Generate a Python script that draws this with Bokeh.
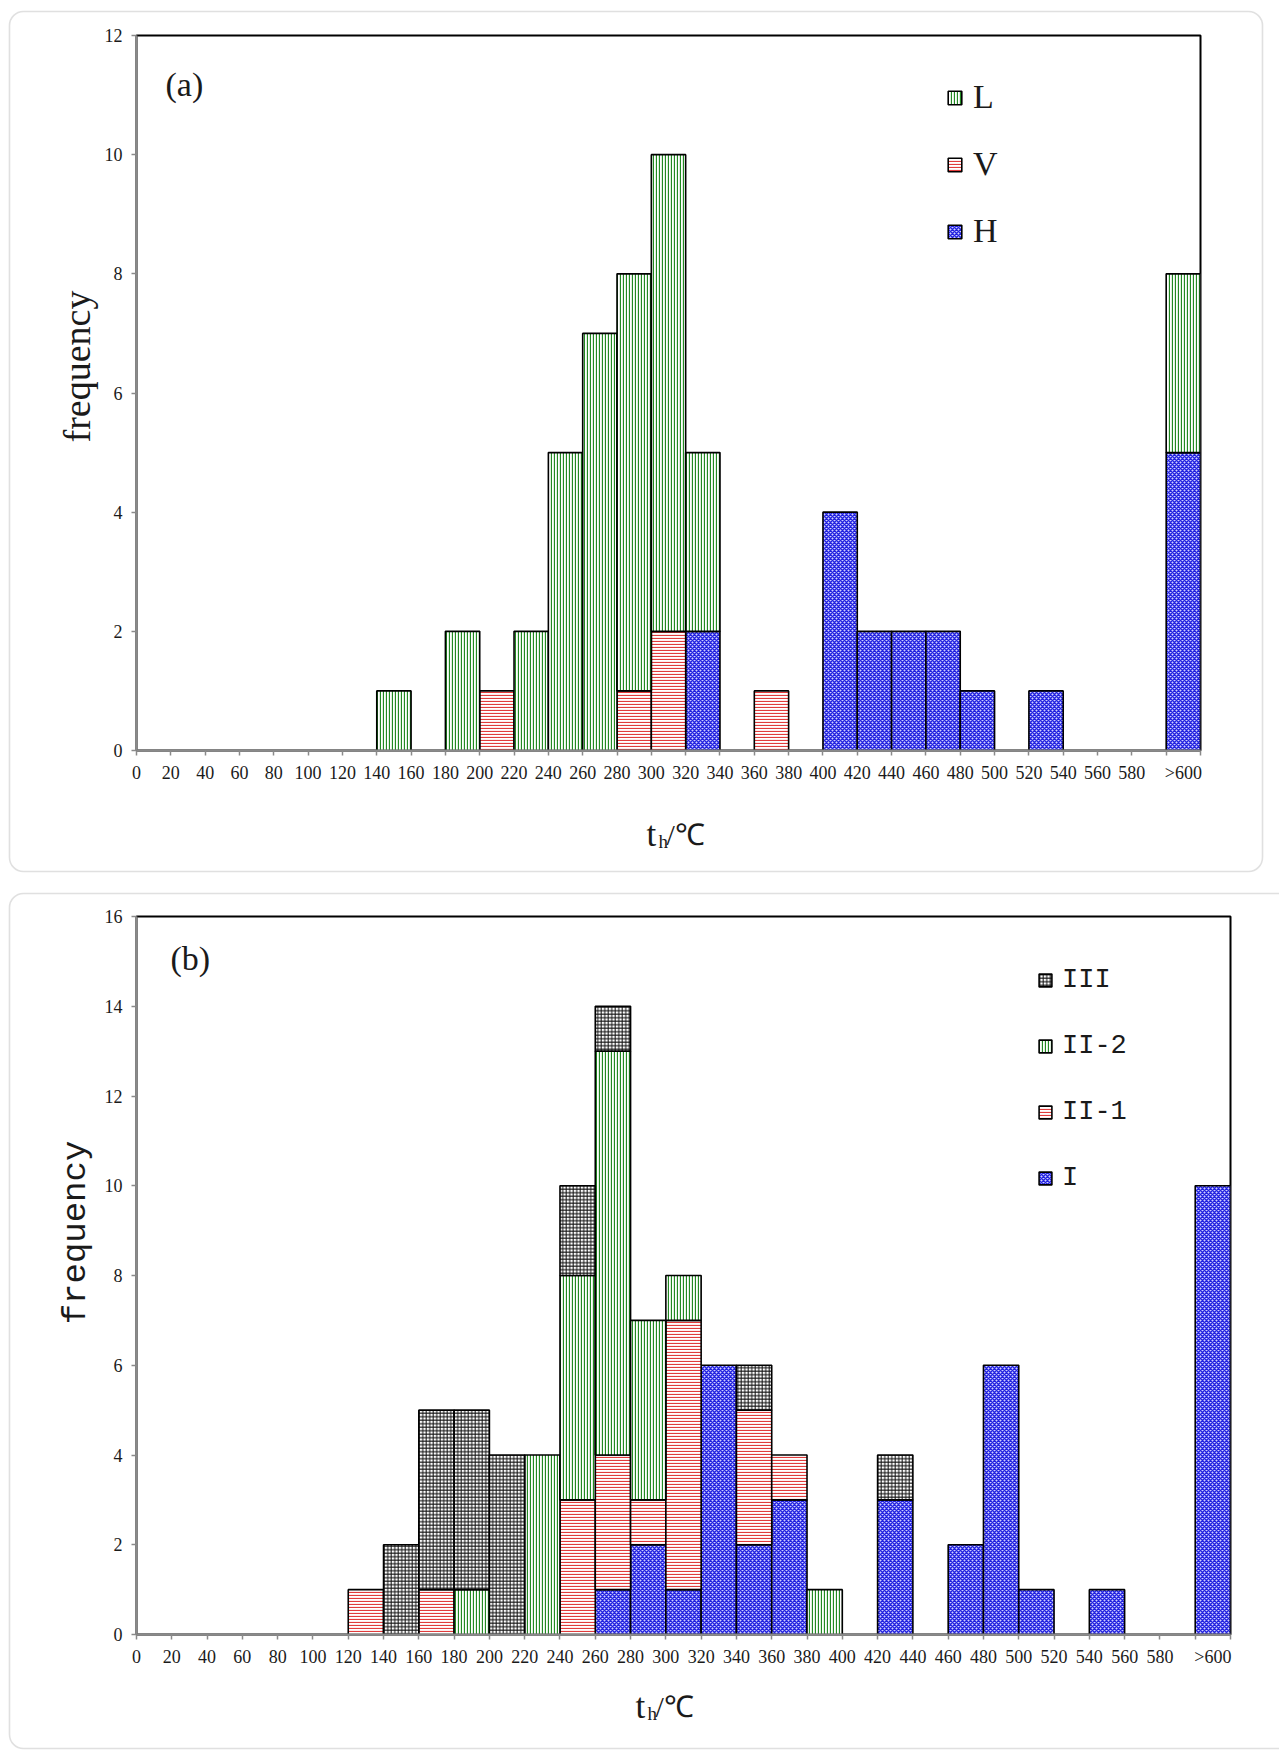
from math import pi

from bokeh.plotting import figure
from bokeh.models import (Range1d, FixedTicker, Label, Legend, LegendItem,
                          BoxAnnotation)
from bokeh.embed import file_html
from bokeh.resources import INLINE

# ---------------------------------------------------------------- data
# homogenisation-temperature bins, 20 degC wide; the last bin holds ">600"
BIN_WIDTH = 20
bin_left = [0, 20, 40, 60, 80, 100, 120, 140, 160, 180, 200, 220, 240, 260,
            280, 300, 320, 340, 360, 380, 400, 420, 440, 460, 480, 500, 520,
            540, 560, 580, 600]
tick_labels = ["0", "20", "40", "60", "80", "100", "120", "140", "160", "180",
               "200", "220", "240", "260", "280", "300", "320", "340", "360",
               "380", "400", "420", "440", "460", "480", "500", "520", "540",
               "560", "580", ">600"]

# (a) counts by inclusion type
a_H = [0, 0, 0, 0, 0, 0, 0, 0, 0, 0, 0, 0, 0, 0, 0, 0, 2, 0, 0, 0,
       4, 2, 2, 2, 1, 0, 1, 0, 0, 0, 5]
a_V = [0, 0, 0, 0, 0, 0, 0, 0, 0, 0, 1, 0, 0, 0, 1, 2, 0, 0, 1, 0,
       0, 0, 0, 0, 0, 0, 0, 0, 0, 0, 0]
a_L = [0, 0, 0, 0, 0, 0, 0, 1, 0, 2, 0, 2, 5, 7, 7, 8, 3, 0, 0, 0,
       0, 0, 0, 0, 0, 0, 0, 0, 0, 0, 3]

# (b) counts by stage
b_I = [0, 0, 0, 0, 0, 0, 0, 0, 0, 0, 0, 0, 0, 1, 2, 1, 6, 2, 3, 0,
       0, 3, 0, 2, 6, 1, 0, 1, 0, 0, 10]
b_II1 = [0, 0, 0, 0, 0, 0, 1, 0, 1, 0, 0, 0, 3, 3, 1, 6, 0, 3, 1, 0,
         0, 0, 0, 0, 0, 0, 0, 0, 0, 0, 0]
b_II2 = [0, 0, 0, 0, 0, 0, 0, 0, 0, 1, 0, 4, 5, 9, 4, 1, 0, 0, 0, 1,
         0, 0, 0, 0, 0, 0, 0, 0, 0, 0, 0]
b_III = [0, 0, 0, 0, 0, 0, 0, 2, 4, 4, 4, 0, 2, 1, 0, 0, 0, 1, 0, 0,
         0, 1, 0, 0, 0, 0, 0, 0, 0, 0, 0]

# ---------------------------------------------------------------- styles
PAGE_W, PAGE_H = 1279, 1752
SERIF = "Liberation Serif"
MONO = "Liberation Mono"
AXIS_GREY = "#8a8a8a"
TEXT = "#1a1a1a"

GREEN = dict(fill_color="white", hatch_pattern="|", hatch_color="#238a23",
             hatch_scale=3, hatch_weight=1.3)
RED = dict(fill_color="white", hatch_pattern="-", hatch_color="#e03c3c",
           hatch_scale=3, hatch_weight=1.2)
BLUE = dict(fill_color="#d0d0ff", hatch_pattern="x", hatch_color="#2323e0",
            hatch_scale=4, hatch_weight=1.5)
GRID = dict(fill_color="white", hatch_pattern="+", hatch_color="#111111",
            hatch_scale=3.5, hatch_weight=1)


def stacked_bars(p, series, styles):
    """Stack the series bottom-up, skipping empty cells."""
    base = [0] * len(bin_left)
    renderers = []
    for vals, st in zip(series, styles):
        xs, bottoms, tops = [], [], []
        for i, v in enumerate(vals):
            if v:
                xs.append(bin_left[i] + BIN_WIDTH / 2)
                bottoms.append(base[i])
                tops.append(base[i] + v)
            base[i] += v
        r = p.vbar(x=xs, width=BIN_WIDTH, bottom=bottoms, top=tops,
                   line_color="black", line_width=1.6, **st)
        renderers.append(r)
    return renderers


def make_panel(height, frame, ymax, page_top):
    """frame = (left, right, top, bottom) in the figure's own pixels."""
    fl, fr, ft, fb = frame
    p = figure(width=PAGE_W, height=height, output_backend="svg",
               toolbar_location=None, x_range=Range1d(0, 620),
               y_range=Range1d(0, ymax), min_border_left=fl,
               min_border_right=PAGE_W - fr, min_border_top=ft,
               min_border_bottom=height - fb)
    # the chart sits on top of the page sheet, which carries the titles
    p.stylesheets = [":host { position: absolute !important; left: 0px !important; "
                     f"top: {page_top}px !important; }}"]
    p.grid.visible = False
    p.outline_line_color = "black"
    p.outline_line_width = 2
    p.background_fill_color = None
    p.border_fill_color = None

    label_pos = bin_left[:-1] + [bin_left[-1] + BIN_WIDTH / 2]
    p.xaxis.ticker = FixedTicker(ticks=label_pos,
                                 minor_ticks=bin_left + [bin_left[-1] + BIN_WIDTH])
    p.xaxis.major_label_overrides = {t: s for t, s in zip(label_pos, tick_labels)}
    p.xaxis.major_tick_line_color = None
    p.xaxis.major_tick_out = 5
    p.xaxis.major_tick_in = 0
    p.xaxis.minor_tick_line_color = AXIS_GREY
    p.xaxis.minor_tick_line_width = 1.5
    p.xaxis.minor_tick_out = 5
    p.xaxis.minor_tick_in = 0
    p.xaxis.major_label_standoff = 7

    p.yaxis.ticker = FixedTicker(ticks=list(range(0, ymax + 1, 2)))
    p.yaxis.minor_tick_line_color = None
    p.yaxis.major_tick_line_color = AXIS_GREY
    p.yaxis.major_tick_line_width = 1.5
    p.yaxis.major_tick_out = 5
    p.yaxis.major_tick_in = 0
    p.yaxis.major_label_standoff = 9

    for ax in (p.xaxis, p.yaxis):
        ax.axis_line_color = AXIS_GREY
        ax.axis_line_width = 2
        ax.major_label_text_font = SERIF
        ax.major_label_text_font_size = "18px"
        ax.major_label_text_color = TEXT
    return p


# ---------------------------------------------------------------- page sheet
# a plain canvas in page pixels (y downwards) for frames and titles
sheet = figure(width=PAGE_W, height=PAGE_H, output_backend="svg",
               toolbar_location=None, x_range=Range1d(0, PAGE_W),
               y_range=Range1d(PAGE_H, 0), x_axis_type=None, y_axis_type=None,
               min_border=0)
sheet.grid.visible = False
sheet.outline_line_color = None
sheet.background_fill_color = "white"
sheet.border_fill_color = "white"


def sheet_text(x, y, text, font, size, angle=0, align="left",
               baseline="alphabetic"):
    sheet.add_layout(Label(x=x, y=y, text=text, text_font=font,
                           text_font_size=f"{size}px", text_color=TEXT,
                           angle=angle, text_align=align,
                           text_baseline=baseline))


def sheet_frame(left, top, right, bottom):
    sheet.add_layout(BoxAnnotation(left=left, right=right, top=top,
                                   bottom=bottom, fill_alpha=0,
                                   line_color="#999999", line_width=1.6,
                                   border_radius=14))


def axis_title(x, base):
    sheet_text(x, base, "t", SERIF, 35)
    sheet_text(x + 12, base + 7, "h", SERIF, 19)
    sheet_text(x + 20, base, "/\u2103", SERIF, 30)


# ---------------------------------------------------------------- panel (a)
frame_a = (136, 1200, 35, 750)
pa = make_panel(882, frame_a, 12, 0)
rH, rV, rL = stacked_bars(pa, [a_H, a_V, a_L], [BLUE, RED, GREEN])
pa.add_layout(Legend(items=[LegendItem(label="L", renderers=[rL]),
                            LegendItem(label="V", renderers=[rV]),
                            LegendItem(label="H", renderers=[rH])],
                     location=(946 - 136, 750 - 251), orientation="vertical",
                     border_line_color=None, background_fill_alpha=0,
                     padding=0, margin=0, spacing=27, glyph_width=17,
                     glyph_height=17, label_standoff=10, label_height=40,
                     label_text_font=SERIF, label_text_font_size="34px",
                     label_text_color=TEXT))

sheet_frame(9, 11, 1262, 871)
sheet_text(165, 84, "(a)", SERIF, 34)
sheet_text(76, 366, "frequency", SERIF, 38, angle=pi / 2, align="center",
           baseline="middle")
axis_title(646, 834)

# ---------------------------------------------------------------- panel (b)
frame_b = (136, 1230, 34, 752)
pb = make_panel(870, frame_b, 16, 882)
rI, rII1, rII2, rIII = stacked_bars(pb, [b_I, b_II1, b_II2, b_III],
                                    [BLUE, RED, GREEN, GRID])
pb.add_layout(Legend(items=[LegendItem(label="III", renderers=[rIII]),
                            LegendItem(label="II-2", renderers=[rII2]),
                            LegendItem(label="II-1", renderers=[rII1]),
                            LegendItem(label="I", renderers=[rI])],
                     location=(1037 - 136, 752 - (1175 - 882) - 23),
                     orientation="vertical", border_line_color=None,
                     background_fill_alpha=0, padding=0, margin=0,
                     spacing=26, glyph_width=16, glyph_height=16,
                     label_standoff=9, label_height=40, label_text_font=MONO,
                     label_text_font_size="27px", label_text_color=TEXT))

sheet_frame(9, 893, 1300, 1748)
sheet_text(170, 958, "(b)", SERIF, 34)
sheet_text(75, 1232, "frequency", MONO, 34, angle=pi / 2, align="center",
           baseline="middle")
axis_title(635, 1706)

open("out.html", "w").write(file_html([sheet, pa, pb], INLINE,
                                      title="th histogram"))
